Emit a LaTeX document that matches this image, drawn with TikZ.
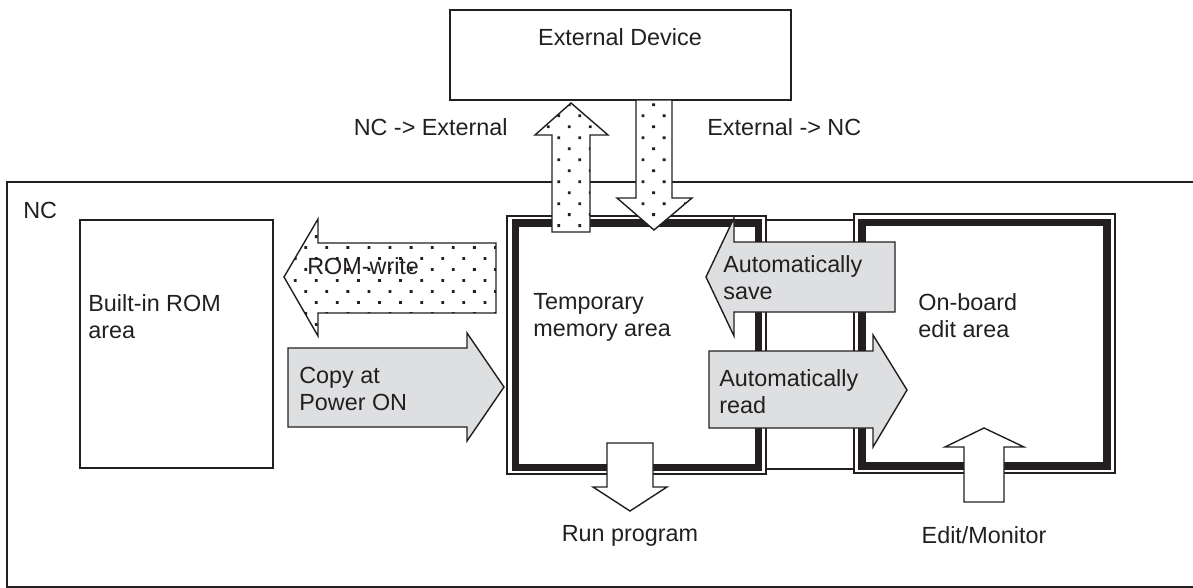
\documentclass[tikz,border=0pt]{standalone}
\usepackage{fontspec}
\setmainfont{Liberation Sans}
\usetikzlibrary{patterns}

\definecolor{ink}{RGB}{35,31,32}
\definecolor{arrowgray}{RGB}{222,223,225}

% sparse staggered dots for the transfer arrows
\pgfdeclarepatternformonly{sparsedots}{\pgfqpoint{-1pt}{-1pt}}{\pgfqpoint{13pt}{13.5pt}}{\pgfqpoint{12pt}{12.5pt}}{
  \pgfpathrectangle{\pgfqpoint{-0.8pt}{-0.8pt}}{\pgfqpoint{1.6pt}{1.6pt}}
  \pgfpathrectangle{\pgfqpoint{5.2pt}{5.45pt}}{\pgfqpoint{1.6pt}{1.6pt}}
  \pgfusepath{fill}}

\begin{document}
\begin{tikzpicture}[x=0.02cm, y=-0.02cm, line join=miter,
  thinbox/.style={draw=ink, line width=0.8pt},
  memframe/.style={draw=ink, line width=4.3pt},
  dotarrow/.style={draw=ink, line width=0.8pt, preaction={fill=white}, pattern=sparsedots, pattern color=ink},
  grayarrow/.style={draw=ink, line width=0.8pt, fill=arrowgray},
  whitearrow/.style={draw=ink, line width=0.8pt, fill=white},
  lbl/.style={text=ink, inner sep=0pt, align=left, font=\fontsize{13.3}{15.5}\selectfont}]

\useasboundingbox (0,0) rectangle (1193,588);

% NC
\draw[thinbox] (1193,182) -- (7,182) -- (7,587) -- (1193,587);
\node[lbl, anchor=west] (nc) at (23,210) {NC};

% Built-in ROM
\draw[thinbox] (80,220) rectangle (273,468);
\node[lbl, anchor=west] (rom) at (88,317) {Built-in ROM\\area};

% External device
\draw[thinbox] (450,10) rectangle (791,100);
\node[lbl] (ext) at (620,37) {External Device};

% Temporary memory area
\draw[thinbox] (507,216) rectangle (766,474);
\draw[memframe] (515.5,223) rectangle (758.5,467.5);
\node[lbl, anchor=west] (temp) at (533,317) {Temporary\\memory area};

% On-board edit area
\draw[thinbox] (854,214) rectangle (1115,473);
\draw[memframe] (862,222.5) rectangle (1107,466);
\node[lbl, anchor=west] (onboard) at (918,316) {On-board\\edit area};

% between the two areas
\draw[thinbox] (766,220) -- (854,220);
\draw[thinbox] (766,469) -- (854,469);

% NC <-> external
\draw[dotarrow] (552,232) -- (552,135) -- (535,135) -- (571,103) -- (608,135) -- (590,135) -- (590,232) -- cycle;
\draw[dotarrow] (636,100) -- (636,198) -- (617,198) -- (654,230) -- (692,198) -- (672,198) -- (672,100) -- cycle;
\node[lbl, anchor=east] (toext) at (508,127) {NC -> External};
\node[lbl, anchor=west] (tonc) at (707,127) {External -> NC};

% ROM-write
\draw[dotarrow] (496,243) -- (318,243) -- (318,219) -- (284,277) -- (318,336) -- (318,313) -- (496,313) -- cycle;
\node[lbl, anchor=west] (romwrite) at (307,266) {ROM-write};

% Copy at power on
\draw[grayarrow] (288,348) -- (467,348) -- (467,333) -- (504,387) -- (467,441) -- (467,427) -- (288,427) -- cycle;
\node[lbl, anchor=west] (copy) at (299,389) {Copy at\\Power ON};

% Automatically save / read
\draw[grayarrow] (895,242) -- (734,242) -- (734,218) -- (706,277) -- (734,336) -- (734,312) -- (895,312) -- cycle;
\node[lbl, anchor=west] (save) at (723,278) {Automatically\\save};
\draw[grayarrow] (709,351) -- (873,351) -- (873,335) -- (907,390) -- (873,447) -- (873,428) -- (709,428) -- cycle;
\node[lbl, anchor=west] (read) at (719,392) {Automatically\\read};

% Run program
\draw[whitearrow] (607,443) -- (653,443) -- (653,487) -- (667,487) -- (630,511) -- (593,487) -- (607,487) -- cycle;
\node[lbl] (run) at (630,536) {Run program};

% Edit/Monitor
\draw[whitearrow] (964,502) -- (964,447) -- (945,447) -- (984,428) -- (1024,447) -- (1004,447) -- (1004,502) -- cycle;
\node[lbl] (edit) at (984,535) {Edit/Monitor};

\end{tikzpicture}
\end{document}
